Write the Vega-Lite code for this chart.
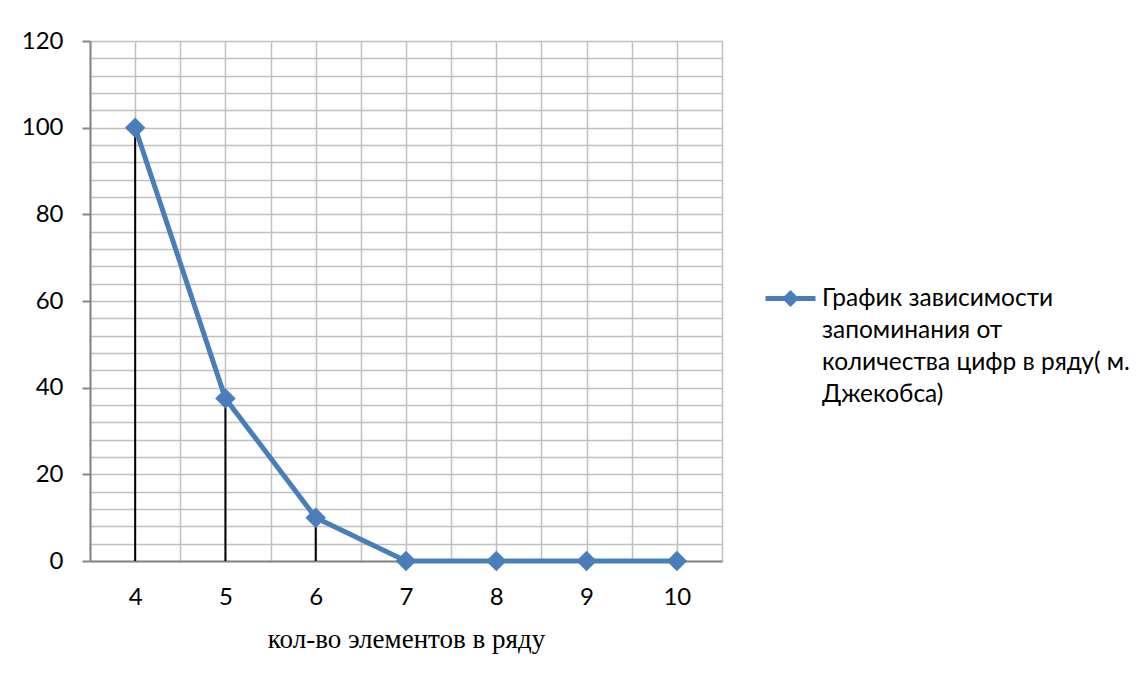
{
  "$schema": "https://vega.github.io/schema/vega-lite/v6.json",
  "width": 632,
  "height": 520,
  "autosize": {"type": "none"},
  "padding": {"left": 90, "top": 41, "right": 423, "bottom": 114},
  "background": "white",
  "config": {"view": {"stroke": null}, "font": "Lato", "style": {"guide-label": {"lineHeight": 32}}},
  "datasets": {
    "series": [
      {"n": 4, "pct": 100, "s": "График зависимости запоминания от количества цифр в ряду( м. Джекобса)"},
      {"n": 5, "pct": 37.5, "s": "График зависимости запоминания от количества цифр в ряду( м. Джекобса)"},
      {"n": 6, "pct": 10, "s": "График зависимости запоминания от количества цифр в ряду( м. Джекобса)"},
      {"n": 7, "pct": 0, "s": "График зависимости запоминания от количества цифр в ряду( м. Джекобса)"},
      {"n": 8, "pct": 0, "s": "График зависимости запоминания от количества цифр в ряду( м. Джекобса)"},
      {"n": 9, "pct": 0, "s": "График зависимости запоминания от количества цифр в ряду( м. Джекобса)"},
      {"n": 10, "pct": 0, "s": "График зависимости запоминания от количества цифр в ряду( м. Джекобса)"}
    ],
    "drops": [
      {"n": 4, "pct": 100},
      {"n": 5, "pct": 37.5},
      {"n": 6, "pct": 10}
    ]
  },
  "layer": [
    {
      "data": {"name": "drops"},
      "mark": {"type": "rule", "color": "black", "strokeWidth": 2},
      "encoding": {
        "x": {
          "field": "n", "type": "quantitative",
          "scale": {"domain": [3.5, 10.5], "nice": false, "zero": false},
          "axis": {
            "values": [3.5, 4, 4.5, 5, 5.5, 6, 6.5, 7, 7.5, 8, 8.5, 9, 9.5, 10, 10.5],
            "tickCount": 40,
            "labelExpr": "datum.value % 1 === 0 ? format(datum.value, 'd') : ''",
            "ticks": false,
            "grid": true, "gridColor": "#c0c0c0", "gridWidth": 1.5,
            "domainColor": "#868686", "domainWidth": 2,
            "labelFont": "Lato", "labelFontSize": 24, "labelColor": "black", "labelPadding": 24,
            "labelFlush": false, "labelOverlap": false,
            "title": "кол-во элементов в ряду",
            "titleFont": "Liberation Serif", "titleFontSize": 27, "titleFontWeight": "normal", "titleColor": "black",
            "titleBaseline": "alphabetic", "titleY": 86, "titleX": 316
          }
        },
        "y": {
          "field": "pct", "type": "quantitative",
          "scale": {"domain": [0, 120], "nice": false},
          "axis": {
            "values": [0, 4, 8, 12, 16, 20, 24, 28, 32, 36, 40, 44, 48, 52, 56, 60, 64, 68, 72, 76, 80, 84, 88, 92, 96, 100, 104, 108, 112, 116, 120],
            "tickCount": 100,
            "labelExpr": "datum.value % 20 === 0 ? datum.label : ''",
            "tickSize": 8, "tickColor": "#868686", "tickWidth": 2,
            "tickOpacity": {"condition": {"test": "datum.value % 20 === 0", "value": 1}, "value": 0},
            "grid": true, "gridColor": "#c0c0c0", "gridWidth": 1.5,
            "domainColor": "#868686", "domainWidth": 2,
            "labelFont": "Lato", "labelFontSize": 24, "labelColor": "black", "labelPadding": 19,
            "labelOverlap": false,
            "title": null
          }
        },
        "y2": {"datum": 0}
      }
    },
    {
      "data": {"name": "series"},
      "mark": {"type": "line", "strokeWidth": 5},
      "encoding": {
        "x": {"field": "n", "type": "quantitative"},
        "y": {"field": "pct", "type": "quantitative"},
        "color": {
          "field": "s", "type": "nominal",
          "scale": {"range": ["#4a7ebb"]},
          "legend": {
            "title": null,
            "orient": "none",
            "legendX": 673,
            "legendY": 230,
            "padding": 0,
            "symbolType": "M-1,0L-0.2,0L0,-0.2L0.2,0L1,0L0.2,0L0,0.2L-0.2,0Z",
            "symbolSize": 2500,
            "symbolStrokeWidth": 5,
            "symbolFillColor": "#4a7ebb",
            "labelFont": "Lato",
            "labelFontSize": 24.5,
            "labelColor": "black",
            "labelLimit": 500,
            "labelOffset": 4,
            "labelExpr": "['График зависимости', 'запоминания от', 'количества цифр в ряду( м.', 'Джекобса)']",
            "encode": {
              "symbols": {"update": {
                "fill": {"value": "#4a7ebb"},
                "stroke": {"value": "#4a7ebb"},
                "strokeWidth": {"value": 5},
                "strokeCap": {"value": "round"},
                "opacity": {"value": 1}
              }},
              "labels": {
                "update": {
                  "baseline": {"value": "top"},
                  "dy": {"value": -12}
                }
              }
            }
          }
        }
      }
    },
    {
      "data": {"name": "series"},
      "mark": {"type": "point", "shape": "diamond", "filled": true, "size": 420, "opacity": 1, "color": "#4a7ebb"},
      "encoding": {
        "x": {"field": "n", "type": "quantitative"},
        "y": {"field": "pct", "type": "quantitative"}
      }
    }
  ]
}
